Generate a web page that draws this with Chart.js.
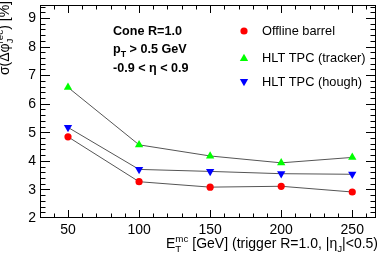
<!DOCTYPE html>
<html>
<head>
<meta charset="utf-8">
<script src="https://cdn.jsdelivr.net/npm/chart.js@4/dist/chart.umd.min.js"></script>
<style>
html,body{margin:0;padding:0;background:#fff;}
#wrap{position:relative;width:381px;height:255px;}
</style>
</head>
<body>
<div id="wrap"><canvas id="c"></canvas></div>
<script>
// ---- data ----
const xVals = [50, 100, 150, 200, 250];
const offlineBarrel = [4.84, 3.27, 3.08, 3.11, 2.91];
const hltTracker = [6.57, 4.56, 4.17, 3.93, 4.12];
const hltHough = [5.17, 3.70, 3.63, 3.55, 3.53];
const xTickLabels = [50, 100, 150, 200, 250];
const yTickLabels = [2, 3, 4, 5, 6, 7, 8, 9];
const seriesNames = ["Offline barrel", "HLT TPC (tracker)", "HLT TPC (hough)"];

const FONT = '"Liberation Sans", Arial, Helvetica, sans-serif';
const LINE = '#555555';

function pts(ys){ return xVals.map((x,i)=>({x:x, y:ys[i]})); }

// rich text: segments {t, s(scale), dy(em), bold, group:{sub,sup}}
function segFont(fs, scale, bold){ return (bold?'bold ':'') + (fs*scale).toFixed(2) + 'px ' + FONT; }
function richWidth(ctx, segs, fs){
  let w = 0;
  for (const s of segs){
    if (s.group){
      ctx.font = segFont(fs, 0.7, s.bold);
      const a = s.group.sub ? ctx.measureText(s.group.sub).width : 0;
      const b = s.group.sup ? ctx.measureText(s.group.sup).width : 0;
      w += Math.max(a,b);
    } else {
      ctx.font = segFont(fs, s.s||1, s.bold);
      w += ctx.measureText(s.t).width;
    }
  }
  return w;
}
function drawRich(ctx, segs, x, y, fs, align){
  let cx = x;
  if (align === 'right') cx = x - richWidth(ctx, segs, fs);
  ctx.textAlign = 'left';
  ctx.textBaseline = 'alphabetic';
  for (const s of segs){
    if (s.group){
      ctx.font = segFont(fs, 0.7, s.bold);
      let a=0,b=0;
      if (s.group.sub){ ctx.fillText(s.group.sub, cx, y + fs*0.28); a = ctx.measureText(s.group.sub).width; }
      if (s.group.sup){ ctx.fillText(s.group.sup, cx, y - fs*0.42); b = ctx.measureText(s.group.sup).width; }
      cx += Math.max(a,b);
    } else {
      ctx.font = segFont(fs, s.s||1, s.bold);
      ctx.fillText(s.t, cx, y + (s.dy||0)*fs);
      cx += ctx.measureText(s.t).width;
    }
  }
}

function marker(ctx, style, x, y, r, color){
  ctx.save();
  ctx.fillStyle = color;
  ctx.beginPath();
  if (style === 'circle'){
    ctx.arc(x, y, r, 0, Math.PI*2);
  } else {
    const dir = style === 'up' ? 1 : -1;
    const h = r*1.5, w = r*1.732/2*1.0;
    ctx.moveTo(x, y - dir*r);
    ctx.lineTo(x - r*0.866, y + dir*r*0.5);
    ctx.lineTo(x + r*0.866, y + dir*r*0.5);
    ctx.closePath();
  }
  ctx.fill();
  ctx.restore();
}

const rootStyle = {
  id: 'rootStyle',
  afterDraw(chart){
    const ctx = chart.ctx;
    const a = chart.chartArea;
    const xs = chart.scales.x, ys = chart.scales.y;
    ctx.save();
    ctx.strokeStyle = '#000';
    ctx.lineWidth = 1;
    // frame
    ctx.strokeRect(Math.round(a.left)+0.5, Math.round(a.top)+0.5, Math.round(a.right-a.left)-1, Math.round(a.bottom-a.top)-1);
    const L = Math.round(a.left)+0.5, R = Math.round(a.right)-0.5, T = Math.round(a.top)+0.5, B = Math.round(a.bottom)-0.5;
    ctx.beginPath();
    // x ticks
    for (let v = 30; v <= 266; v += 10){
      const px = Math.round(xs.getPixelForValue(v)) + 0.5;
      if (px <= L || px >= R) continue;
      const major = v % 50 === 0;
      const len = major ? 7.5 : 4;
      ctx.moveTo(px, B); ctx.lineTo(px, B - len);
      ctx.moveTo(px, T); ctx.lineTo(px, T + len);
    }
    // y ticks
    for (let k = 0; k <= 37; k++){
      const v = 2 + k*0.2;
      if (v > ys.max) break;
      const py = Math.round(ys.getPixelForValue(v)) + 0.5;
      if (py >= B || py <= T) continue;
      const major = k % 5 === 0;
      const len = major ? 9.5 : 5;
      ctx.moveTo(L, py); ctx.lineTo(L + len, py);
      ctx.moveTo(R, py); ctx.lineTo(R - len, py);
    }
    ctx.stroke();

    // tick labels
    ctx.fillStyle = '#000';
    ctx.font = '14px ' + FONT;
    ctx.textAlign = 'center';
    ctx.textBaseline = 'alphabetic';
    for (const v of xTickLabels){
      ctx.fillText(String(v), xs.getPixelForValue(v), 234);
    }
    ctx.textAlign = 'right';
    ctx.textBaseline = 'middle';
    for (const v of yTickLabels){
      ctx.fillText(String(v), 36, ys.getPixelForValue(v) + 0.5);
    }

    // x title
    const xTitle = [
      {t:'E'}, {group:{sub:'T', sup:'mc'}},
      {t:' [GeV] (trigger R=1.0, |\u03B7'}, {group:{sub:'J'}}, {t:'|<0.5)'}
    ];
    drawRich(ctx, xTitle, 378, 248, 14, 'right');

    // y title (rotated)
    ctx.save();
    ctx.translate(9, 1);
    ctx.rotate(-Math.PI/2);
    const yTitle = [
      {t:'\u03C3(\u0394\u03C6'}, {group:{sub:'J', sup:'rec'}}, {t:') [%]'}
    ];
    drawRich(ctx, yTitle, 0, 0, 14, 'right');
    ctx.restore();

    // text box
    ctx.fillStyle = '#000';
    drawRich(ctx, [{t:'Cone R=1.0', bold:true}], 113, 35, 12.6, 'left');
    drawRich(ctx, [{t:'p', bold:true}, {group:{sub:'T'}, bold:true}, {t:' > 0.5 GeV', bold:true}], 113, 53, 12.6, 'left');
    drawRich(ctx, [{t:'-0.9 < \u03B7 < 0.9', bold:true}], 113, 72, 12.6, 'left');

    // legend
    const legY = [31, 58, 82];
    marker(ctx, 'circle', 244, legY[0], 3.6, '#ff0000');
    marker(ctx, 'up', 244, legY[1] + 0.5, 4.8, '#00ff00');
    marker(ctx, 'down', 244, legY[2] - 0.5, 4.8, '#0000ff');
    ctx.font = '12.8px ' + FONT;
    ctx.textAlign = 'left';
    ctx.textBaseline = 'middle';
    for (let i = 0; i < 3; i++){
      ctx.fillText(seriesNames[i], 262, legY[i] + 0.5);
    }
    ctx.restore();
  }
};

new Chart(document.getElementById('c'), {
  type: 'line',
  data: {
    datasets: [
      { label: seriesNames[0], data: pts(offlineBarrel), borderColor: LINE, borderWidth: 1,
        pointStyle: 'circle', pointRadius: 3.6, pointBackgroundColor: '#ff0000', pointBorderColor: '#ff0000', pointBorderWidth: 0 },
      { label: seriesNames[1], data: pts(hltTracker), borderColor: LINE, borderWidth: 1,
        pointStyle: 'triangle', pointRadius: 4.8, pointBackgroundColor: '#00ff00', pointBorderColor: '#00ff00', pointBorderWidth: 0 },
      { label: seriesNames[2], data: pts(hltHough), borderColor: LINE, borderWidth: 1,
        pointStyle: 'triangle', pointRotation: 180, pointRadius: 4.8, pointBackgroundColor: '#0000ff', pointBorderColor: '#0000ff', pointBorderWidth: 0 }
    ]
  },
  options: {
    responsive: true,
    maintainAspectRatio: false,
    animation: false,
    layout: { padding: { left: 40, top: 2, right: 5, bottom: 37 } },
    plugins: { legend: { display: false }, tooltip: { enabled: false } },
    elements: { line: { tension: 0 } },
    scales: {
      x: { type: 'linear', min: 30.3, max: 266.7, display: false },
      y: { type: 'linear', min: 2, max: 9.46, display: false }
    }
  },
  plugins: [rootStyle]
});
</script>
</body>
</html>
